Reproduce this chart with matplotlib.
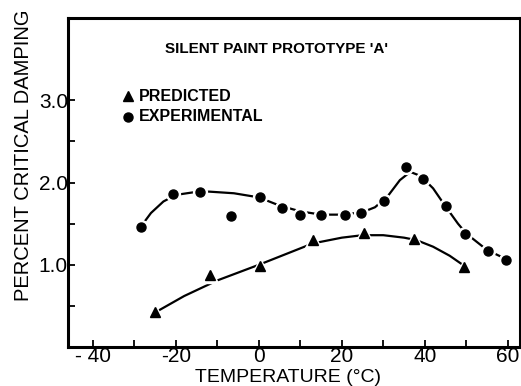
import matplotlib.pyplot as plt

# experimental points (circles)
exp_t = [-28.5, -20.7, -14.3, -6.8, 0.2, 5.6, 10.0, 15.0, 20.7, 24.7, 30.1, 35.4, 39.6, 45.0, 49.8, 55.2, 59.6]
exp_d = [1.46, 1.86, 1.89, 1.59, 1.82, 1.69, 1.60, 1.61, 1.61, 1.63, 1.78, 2.19, 2.04, 1.71, 1.38, 1.17, 1.06]

# predicted points (triangles)
pred_t = [-25.0, -11.8, 0.2, 13.0, 25.3, 37.3, 49.4]
pred_d = [0.42, 0.88, 0.99, 1.30, 1.39, 1.31, 0.97]

# hand drawn curves
exp_curve_t = [-28.5, -26, -23, -20, -16, -12, -6, 0, 5, 10, 15, 20, 25, 28, 31, 34, 36.5, 39, 42, 45, 48, 50, 55, 60]
exp_curve_d = [1.46, 1.63, 1.77, 1.85, 1.88, 1.89, 1.87, 1.82, 1.72, 1.65, 1.61, 1.61, 1.64, 1.70, 1.83, 2.03, 2.13, 2.08, 1.93, 1.71, 1.50, 1.38, 1.18, 1.06]
pred_curve_t = [-25, -18, -10, 0, 7, 13, 20, 25, 30, 35, 38, 42, 46, 50]
pred_curve_d = [0.42, 0.62, 0.81, 1.0, 1.14, 1.26, 1.33, 1.36, 1.36, 1.33, 1.30, 1.22, 1.11, 0.97]

xticks = [-40, -20, 0, 20, 40, 60]
xlabels = ['- 40', '-20', '0', '20', '40', '60']
yticks = [1.0, 2.0, 3.0]

plt.rcParams['font.family'] = ['Liberation Sans', 'DejaVu Sans']

fig = plt.figure(figsize=(5.21, 3.86), dpi=100)
ax = fig.add_axes([0.1305, 0.101, 0.868, 0.852])

ax.plot(exp_curve_t, exp_curve_d, color='black', lw=1.6, zorder=1)
ax.plot(pred_curve_t, pred_curve_d, color='black', lw=1.6, zorder=1)

# white halo so the lines break near the markers
ax.plot(exp_t, exp_d, 'o', color='white', ms=10, zorder=2)
ax.plot(pred_t, pred_d, '^', color='white', ms=11, zorder=2)
ax.plot(exp_t, exp_d, 'o', color='black', ms=6.5, zorder=3)
ax.plot(pred_t, pred_d, '^', color='black', ms=7, zorder=3)

ax.set_xlim(-46, 63)
ax.set_ylim(0, 4.0)
ax.set_xticks(list(range(-40, 61, 10)), minor=True)
ax.set_xticks(xticks)
ax.set_xticklabels(xlabels)
ax.set_yticks([0.5, 1.5, 2.5], minor=True)
ax.set_yticks(yticks)
ax.set_yticklabels(['%.1f' % v for v in yticks])
ax.tick_params(axis='both', which='both', direction='in', length=5, width=1.3)
ax.tick_params(axis='x', labelsize=15, pad=0)
ax.tick_params(axis='y', labelsize=15, pad=0)
for s in ax.spines.values():
    s.set_linewidth(2.2)

fig.text(0.553, 0.023, 'TEMPERATURE (°C)', fontsize=14, ha='center', va='center')
fig.text(0.045, 0.598, 'PERCENT CRITICAL DAMPING', fontsize=14.5, rotation=90,
         ha='center', va='center')

ax.text(0.215, 0.905, "SILENT PAINT PROTOTYPE 'A'", transform=ax.transAxes,
        fontsize=11, fontweight='bold', va='center')

# legend drawn by hand, like in the original
ax.plot([-31.6], [3.05], '^', color='black', ms=7)
ax.plot([-31.6], [2.80], 'o', color='black', ms=6.5)
ax.text(-29.0, 3.05, 'PREDICTED', fontsize=11.5, fontweight='bold', va='center')
ax.text(-29.0, 2.80, 'EXPERIMENTAL', fontsize=11.5, fontweight='bold', va='center')

plt.savefig('out.png', dpi=100)
